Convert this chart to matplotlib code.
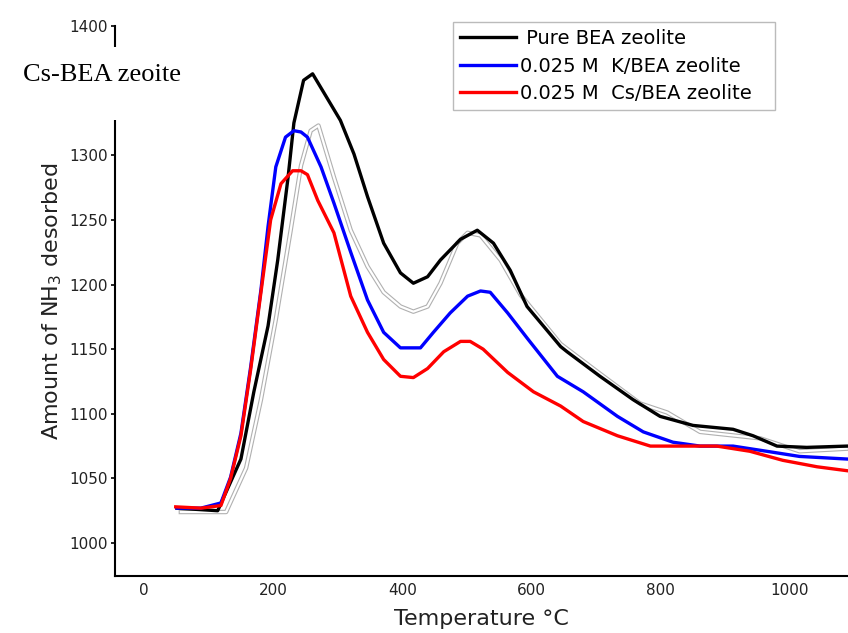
import matplotlib
matplotlib.use("Agg")
import matplotlib.pyplot as plt
from matplotlib.patches import Rectangle

# ---- data ----
pure_x = [51, 114, 150, 170, 192, 207, 223, 232, 247, 261, 304, 325, 346, 371, 397, 417, 439, 459, 490, 516,
          541, 567, 593, 645, 655, 706, 757, 799, 850, 912, 943, 980, 1026, 1088]
pure_y = [1027, 1025, 1065, 1117, 1168, 1219, 1283, 1325, 1358, 1363, 1327, 1301, 1268, 1232, 1209, 1201, 1206, 1219, 1235, 1242,
          1232, 1211, 1183, 1152, 1148, 1129, 1111, 1098, 1091, 1088, 1083, 1075, 1074, 1075]

k_x = [51, 88, 119, 134, 150, 165, 181, 192, 204, 219, 232, 243, 253, 274, 294, 320, 346, 371, 397, 428, 448, 474,
       501, 521, 536, 563, 594, 640, 680, 733, 773, 819, 861, 912, 964, 1015, 1088]
k_y = [1027, 1027, 1031, 1051, 1085, 1136, 1196, 1245, 1291, 1314, 1319, 1318, 1314, 1291, 1263, 1225, 1188, 1163, 1151, 1151, 1163, 1178,
       1191, 1195, 1194, 1178, 1158, 1129, 1117, 1098, 1086, 1078, 1075, 1075, 1071, 1067, 1065]

cs_x = [49, 88, 119, 134, 150, 165, 181, 196, 212, 230, 243, 253, 269, 294, 320, 346, 371, 397, 417, 439, 464, 490,
        505, 525, 563, 603, 645, 680, 733, 784, 835, 887, 938, 989, 1042, 1088]
cs_y = [1028, 1027, 1029, 1050, 1083, 1134, 1194, 1250, 1278, 1288, 1288, 1285, 1265, 1240, 1191, 1163, 1142, 1129, 1128, 1135, 1148, 1156,
        1156, 1150, 1132, 1117, 1106, 1094, 1083, 1075, 1075, 1075, 1071, 1064, 1059, 1056]

gray_x = [57, 127, 158, 181, 204, 227, 243, 258, 270, 294, 320, 346, 371, 397, 417, 439, 459, 485, 501, 521, 552,
          583, 645, 706, 768, 810, 861, 954, 1015, 1088]
gray_y = [1024, 1024, 1058, 1111, 1173, 1242, 1292, 1319, 1323, 1283, 1242, 1214, 1194, 1183, 1179, 1183, 1201, 1232, 1240, 1238, 1219,
          1192, 1154, 1131, 1108, 1101, 1086, 1081, 1071, 1073]

labels = [" Pure BEA zeolite", "0.025 M  K/BEA zeolite", "0.025 M  Cs/BEA zeolite"]
y_ticks = [1000, 1050, 1100, 1150, 1200, 1250, 1300, 1350, 1400]
x_ticks = [0, 200, 400, 600, 800, 1000]

fig = plt.figure(figsize=(8.48, 6.33), dpi=100)
ax = fig.add_axes([115/848, 1-576/633, 1-115/848, (576-26)/633])

# hollow gray curve
ax.plot(gray_x, gray_y, color="#b0b0b0", lw=3.2, zorder=1)
ax.plot(gray_x, gray_y, color="white", lw=1.6, zorder=1.1)

ax.plot(pure_x, pure_y, color="black", lw=2.4, label=labels[0], zorder=3)
ax.plot(k_x, k_y, color="#0000ff", lw=2.4, label=labels[1], zorder=4)
ax.plot(cs_x, cs_y, color="#ff0000", lw=2.4, label=labels[2], zorder=5)

ax.set_xlim(-45, 1090)
ax.set_ylim(974.5, 1400)
ax.set_xticks(x_ticks)
ax.set_yticks(y_ticks)
ax.tick_params(axis="y", length=3, width=1.2, pad=2, labelsize=11, labelcolor="#222222")
ax.tick_params(axis="x", length=0, pad=5, labelsize=11, labelcolor="#222222")
for s in ["top", "right"]:
    ax.spines[s].set_visible(False)
for s in ["left", "bottom"]:
    ax.spines[s].set_linewidth(1.5)
    ax.spines[s].set_color("black")

ax.set_xlabel("Temperature °C", fontsize=16, color="#222222", labelpad=8)
ax.set_ylabel("Amount of NH$_3$ desorbed", fontsize=16, color="#222222", labelpad=4)

leg = fig.legend(loc="upper left", bbox_to_anchor=(453/848, 1-108/633, 322/848, 86/633),
                 mode="expand", fontsize=14,
                 handlelength=2.9, handletextpad=0.2, labelspacing=0.45, borderpad=0.35,
                 borderaxespad=0, fancybox=False, frameon=True, edgecolor="#aaaaaa")
leg.get_frame().set_linewidth(1.0)

# white patch that hides part of the left axis, with caption
fig.add_artist(Rectangle((20/848, 1-120/633), 170/848, 73/633, transform=fig.transFigure,
                         facecolor="white", edgecolor="none", zorder=2))
fig.text(23/848, 1-75/633, "Cs-BEA zeoite", fontsize=19, family="Liberation Serif",
         va="center", ha="left", zorder=3)

fig.savefig("out.png", dpi=100)
